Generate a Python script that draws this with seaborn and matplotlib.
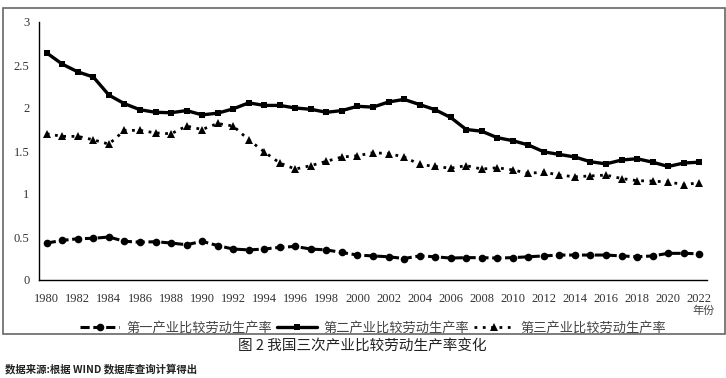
import matplotlib
matplotlib.use("Agg")
import matplotlib.pyplot as plt
import seaborn as sns
from matplotlib.patches import Rectangle

years = list(range(1980, 2023))

primary = [0.43, 0.46, 0.48, 0.485, 0.50, 0.45, 0.44, 0.445, 0.43, 0.41,
           0.45, 0.40, 0.36, 0.35, 0.36, 0.38, 0.39, 0.36, 0.35, 0.32,
           0.29, 0.28, 0.27, 0.25, 0.28, 0.27, 0.255, 0.26, 0.26, 0.255,
           0.26, 0.27, 0.28, 0.29, 0.29, 0.29, 0.29, 0.28, 0.27, 0.28,
           0.31, 0.31, 0.305]

secondary = [2.64, 2.51, 2.42, 2.36, 2.15, 2.05, 1.98, 1.95, 1.945, 1.97,
             1.92, 1.94, 1.99, 2.06, 2.03, 2.03, 2.00, 1.985, 1.95, 1.97,
             2.02, 2.01, 2.07, 2.10, 2.04, 1.98, 1.89, 1.75, 1.73, 1.655,
             1.62, 1.57, 1.49, 1.46, 1.43, 1.375, 1.35, 1.395, 1.41, 1.37,
             1.32, 1.36, 1.37]

tertiary = [1.70, 1.67, 1.67, 1.63, 1.58, 1.74, 1.74, 1.71, 1.70, 1.79,
            1.75, 1.82, 1.79, 1.63, 1.49, 1.36, 1.29, 1.33, 1.38, 1.43,
            1.445, 1.48, 1.47, 1.43, 1.345, 1.32, 1.30, 1.33, 1.29, 1.305,
            1.28, 1.24, 1.255, 1.22, 1.20, 1.21, 1.22, 1.18, 1.155, 1.15,
            1.14, 1.11, 1.13]

labels = ["第一产业比较劳动生产率", "第二产业比较劳动生产率", "第三产业比较劳动生产率"]
y_ticks = [0, 0.5, 1, 1.5, 2, 2.5, 3]
y_ticklabels = ["0", "0.5", "1", "1.5", "2", "2.5", "3"]

sns.set_style("white")
plt.rcParams["font.family"] = ["Noto Sans CJK SC", "DejaVu Sans"]

fig = plt.figure(figsize=(7.26, 3.78), dpi=100)
ax = fig.add_axes([39 / 726, 98 / 378, 668 / 726, 258 / 378])

sns.lineplot(x=years, y=primary, ax=ax, color="black", lw=2.2,
             linestyle=(0, (3, 1.2)), marker="o", markersize=5.5,
             markeredgewidth=0, label=labels[0])
sns.lineplot(x=years, y=secondary, ax=ax, color="black", lw=2.4,
             linestyle="-", marker="s", markersize=5,
             markeredgewidth=0, label=labels[1])
sns.lineplot(x=years, y=tertiary, ax=ax, color="black", lw=2.0,
             linestyle=(0, (1, 2)), marker="^", markersize=6,
             markeredgewidth=0, label=labels[2])

ax.set_xlim(1979.5, 2022.5)
ax.set_ylim(0, 3)
ax.set_xticks(years[::2])
ax.set_xticklabels([str(y) for y in years[::2]])
ax.set_xticks([y + 1.5 for y in years[:-2:2]], minor=True)
ax.tick_params(axis="x", which="major", length=0, pad=9)
ax.tick_params(axis="x", which="minor", length=5, direction="in", width=1)
ax.set_yticks(y_ticks)
ax.set_yticklabels(y_ticklabels)
ax.tick_params(axis="y", length=6, direction="inout", width=1, pad=4)
ax.tick_params(axis="both", which="major", labelcolor="#333333",
               labelsize=9, labelfontfamily="Liberation Serif")

for side in ["top", "right"]:
    ax.spines[side].set_visible(False)
for side in ["left", "bottom"]:
    ax.spines[side].set_color("black")
    ax.spines[side].set_linewidth(1)
ax.set_xlabel("")
ax.set_ylabel("")

ax.legend(loc="upper center", bbox_to_anchor=(0.5, -0.115), ncol=3,
          frameon=False, fontsize=9.5, handlelength=3.0, handletextpad=0.5,
          columnspacing=0.4, labelcolor="#444444")

fig.text(704 / 726, 1 - 311 / 378, "年份", ha="center", va="center",
         fontsize=8, color="#444444")

fig.patches.append(Rectangle((3 / 726, 44 / 378), 722 / 726, 326 / 378,
                             transform=fig.transFigure, fill=False,
                             edgecolor="#666666", lw=1.2))

fig.text(362 / 726, 1 - 346 / 378, "图 2 我国三次产业比较劳动生产率变化",
         ha="center", va="center", fontsize=10.5, color="#222222")
fig.text(5 / 726, 1 - 369 / 378, "数据来源:根据 WIND 数据库查询计算得出",
         ha="left", va="center", fontsize=7.5, color="#222222",
         fontweight="bold")

fig.savefig("out.png", dpi=100)
